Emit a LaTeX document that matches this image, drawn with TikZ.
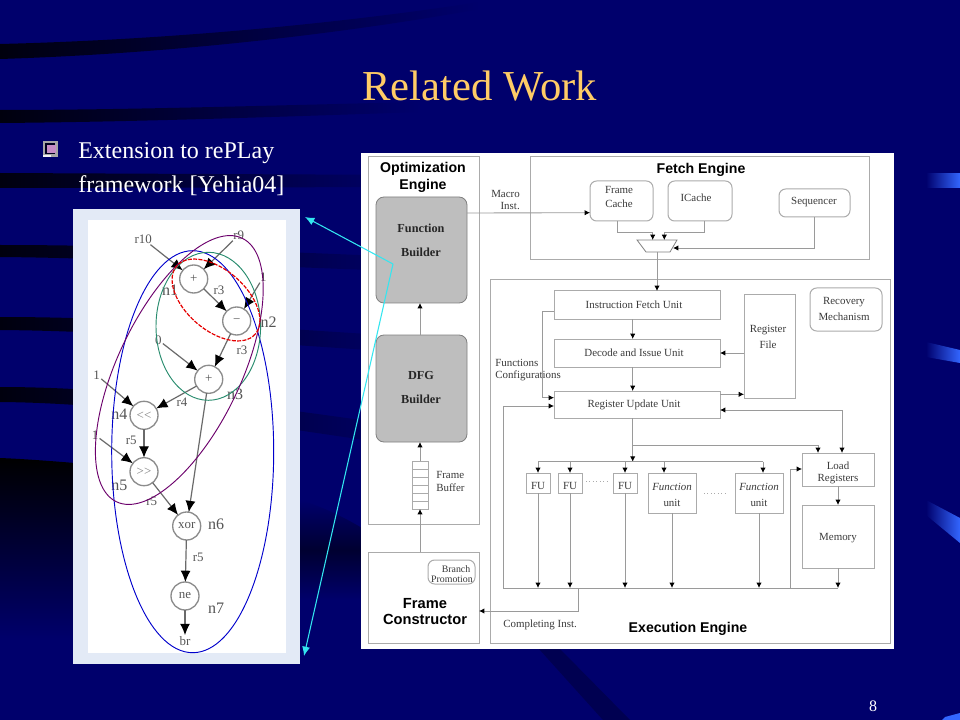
\documentclass[tikz,border=0pt]{standalone}
\usepackage{fontspec}
\setmainfont{Liberation Serif}
\setsansfont{Liberation Sans}
\usetikzlibrary{arrows.meta,fit,calc}
\definecolor{bgc}{HTML}{00006C}
\definecolor{bandc}{HTML}{00000E}
\definecolor{acc}{HTML}{3366FF}
\definecolor{titlec}{HTML}{FFCC66}
\definecolor{linec}{HTML}{ABABAB}
\definecolor{conc}{HTML}{9A9A9A}
\definecolor{txtc}{HTML}{3A3A3A}
\definecolor{fillg}{HTML}{BEBEBE}
\definecolor{panelc}{HTML}{E3EAF6}
\definecolor{cyanc}{HTML}{33E6F0}
\definecolor{gedge}{HTML}{6A6A6A}
\definecolor{gtxt}{HTML}{555555}
\tikzset{
  boxa/.style={draw=linec,line width=.75pt,inner sep=0pt,outer sep=0pt},
  rboxa/.style={boxa,rounded corners=5pt},
  grayb/.style={draw=gray,line width=.6pt,fill=fillg,rounded corners=6pt,inner sep=0pt,outer sep=0pt},
  txt/.style={font=\fontsize{8.2}{9.3}\selectfont,text=txtc,align=center,inner sep=0pt,yshift=-.6pt},
  txtl/.style={txt,align=left,anchor=west},
  head/.style={font=\fontsize{10.6}{12.2}\selectfont\sffamily\bfseries,text=black,align=center,inner sep=0pt},
  bsr/.style={font=\fontsize{9.2}{18}\selectfont\bfseries,text=black!85,align=center,inner sep=0pt},
  conn/.style={draw=conc,line width=.65pt},
  arr/.style={conn,-{Latex[black,length=4pt,width=4pt]}},
  arrb/.style={conn,{Latex[black,length=4pt,width=4pt]}-{Latex[black,length=4pt,width=4pt]}},
  gnode/.style={circle,draw=gray!90,line width=1pt,fill=white,minimum size=21pt,inner sep=0pt,outer sep=0pt,font=\fontsize{9.7}{11}\selectfont,text=gtxt},
  glab/.style={font=\fontsize{9.7}{11}\selectfont,text=gtxt,inner sep=.8pt},
  nlab/.style={font=\fontsize{12}{13}\selectfont,text=gtxt,inner sep=0pt},
  gedgeb/.style={draw=gedge,line width=.9pt,-{Latex[black,length=8.5pt,width=7.5pt]}},
  cyanl/.style={draw=cyanc,line width=.8pt,-{Latex[cyanc,length=7pt,width=6pt]}},
  ell/.style={line width=.7pt},
}
\begin{document}
\begin{tikzpicture}[x=.75pt,y=-.75pt]
\useasboundingbox (0,0) rectangle (960,720);
\fill[bgc] (0,0) rectangle (960,720);
% background swooshes
\shade[left color=bandc,right color=bgc] (0,44) .. controls (160,40) and (330,25) .. (480,2) -- (480,9) .. controls (330,36) and (160,54) .. (0,59) -- cycle;
\shade[left color=bandc,right color=bgc] (0,110) .. controls (120,110) and (250,106) .. (420,102) -- (420,112) .. controls (250,118) and (120,122) .. (0,123) -- cycle;
\shade[left color=bandc,right color=bgc] (0,173) -- (420,175) -- (420,187) -- (0,188) -- cycle;
\shade[left color=bandc,right color=bgc] (0,245) .. controls (120,245) and (240,250) .. (430,258) -- (430,272) .. controls (240,266) and (120,258) .. (0,257) -- cycle;
\shade[left color=bandc,right color=bgc] (0,317) .. controls (120,317) and (240,326) .. (430,338) -- (430,354) .. controls (240,342) and (120,331) .. (0,330) -- cycle;
\shade[left color=bandc,right color=bgc] (0,387) .. controls (120,387) and (260,405) .. (430,430) -- (430,450) .. controls (260,424) and (120,403) .. (0,402) -- cycle;
\shade[top color=black,bottom color=bgc] (0,458) .. controls (25,459) and (50,461) .. (75,463) -- (75,640) -- (0,640) -- cycle;
\shade[top color=bgc,bottom color=bgc,middle color=black!55!bgc] (300,500) .. controls (320,506) and (340,515) .. (362,528) -- (362,600) -- (300,600) -- cycle;
\fill[black!25!bgc] (539,649) -- (560,649) -- (630,720) -- (603,720) -- cycle;
% right accents
\shade[left color=bgc,right color=acc] (926,174) -- (960,174) -- (960,188) -- (926,188) -- cycle;
\shade[left color=bgc,right color=acc] (926,342) -- (960,350) -- (960,363) -- (926,357) -- cycle;
\shade[left color=bgc,right color=acc] (926,500) -- (960,518) -- (960,543) -- (926,515) -- cycle;
\fill[acc] (945,717) -- (960,713) -- (960,720) -- (942,720) -- cycle;
% title and bullet
\node[anchor=base west,inner sep=0pt,text=titlec,font=\fontsize{32}{34}\selectfont] (title) at (362,101) {Related Work};
\fill[gray!70!white] (43,141) rectangle (58,157);
\fill[black!70!bgc] (45,143) rectangle (55,154);
\fill[white!55!violet] (47,145) rectangle (56,153);
\fill[white!90!gray] (43,155) rectangle (51,157);
\node[anchor=base west,inner sep=0pt,text=white,font=\fontsize{18}{20}\selectfont] (b1) at (78,159) {Extension to rePLay};
\node[anchor=base west,inner sep=0pt,text=white,font=\fontsize{18}{20}\selectfont] (b2) at (78,193) {framework [Yehia04]};
\node[anchor=base,inner sep=0pt,text=white,font=\fontsize{12}{13}\selectfont] (pg) at (873,711) {8};
% left panel
\fill[panelc] (73,209) rectangle (300,664);
\fill[white] (88,220) rectangle (286,653);
\node[gnode] (n1) at (193.7,279) {+};
\node[gnode] (n2) at (236.7,321) {−};
\node[gnode] (n3) at (208.7,379.3) {+};
\node[gnode,text=gray] (n4) at (144,415.3) {{<}{<}};
\node[gnode,text=gray] (n5) at (144,471.7) {{>}{>}};
\node[gnode] (n6) at (186.7,526) {xor};
\node[gnode] (n7) at (185,596) {ne};
\node[glab] (lbr) at (185,641) {br};
\node[glab] (lr10) at (143.3,239) {r10};
\node[glab] (lr9) at (238.7,235) {r9};
\node[glab] (lone) at (263.3,277) {1};
\node[glab] (lzero) at (158.3,340) {0};
\node[glab] (lonea) at (96.7,375) {1};
\node[glab] (loneb) at (95,435) {1};
\node[glab] (e1) at (219,290.3) {r3};
\node[glab] (e2) at (242,350) {r3};
\node[glab] (e3) at (182,402) {r4};
\node[glab] (e4) at (131.3,440) {r5};
\node[glab] (e5) at (151.7,501.7) {r5};
\node[glab] (e6) at (198.3,557.3) {r5};
\node[nlab] (t1) at (170,290.3) {n1};
\node[nlab] (t2) at (268.7,322.3) {n2};
\node[nlab] (t3) at (235,394.3) {n3};
\node[nlab] (t4) at (119.3,414) {n4};
\node[nlab] (t5) at (119.3,485) {n5};
\node[nlab] (t6) at (216,524) {n6};
\node[nlab] (t7) at (216,608.3) {n7};
\draw[gedgeb] (lr10) -- (n1);
\draw[gedgeb] (lr9) -- (n1);
\draw[gedgeb] (lone) -- (n2);
\draw[gedgeb] (n1) -- (n2);
\draw[gedgeb] (n2) -- (n3);
\draw[gedgeb] (lzero) -- (n3);
\draw[gedgeb] (n3) -- (n4);
\draw[gedgeb] (lonea) -- (n4);
\draw[gedgeb] (n4) -- (n5);
\draw[gedgeb] (loneb) -- (n5);
\draw[gedgeb] (n5) -- (n6);
\draw[gedgeb] (n3) -- (n6);
\draw[gedgeb] (n6) -- (n7);
\draw[gedgeb] (n7) -- (lbr);
% ellipses
\draw[ell,draw=blue!80!black] (192.7,451.7) ellipse [x radius=81,y radius=201];
\draw[ell,draw={rgb,255:red,40;green,140;blue,110}] (208.3,326.3) ellipse [x radius=52.3,y radius=74];
\draw[ell,draw=violet!85!black,shift={(179.3,370)},rotate=64.5] (0,0) ellipse [x radius=146,y radius=61.6];
\draw[ell,draw=red!90!black,dash pattern=on 3pt off 1pt,line width=.9pt,shift={(216,300)},rotate=-41] (0,0) ellipse [x radius=52,y radius=30];
% right panel
\fill[white] (361,153) rectangle (894,649);
\node[boxa,fit={(368,157) (479,524)}] (opt) {};
\node[boxa,fit={(530,157) (869,260)}] (fetch) {};
\node[boxa,fit={(490,280) (890,643)}] (exec) {};
\node[boxa,fit={(368,552) (479,643)}] (fc) {};
\node[grayb,fit={(376,197) (467,303)}] (fb) {};
\node[grayb,fit={(376,335) (467,442)}] (dfg) {};
\node[rboxa,fit={(590,181) (653,221)}] (cache) {};
\node[rboxa,fit={(668,181) (732,221)}] (icache) {};
\node[rboxa,fit={(779,189) (850,217)}] (seq) {};
\node[boxa,fit={(554,291) (720,319)}] (ifu) {};
\node[boxa,fit={(554,339) (720,367)}] (diu) {};
\node[boxa,fit={(554,391) (720,418)}] (ruu) {};
\node[boxa,fit={(744,295) (795,398)}] (rf) {};
\node[rboxa,fit={(810,288) (882,331)}] (rec) {};
\node[boxa,fit={(412,461) (428,509)}] (buf) {};
\node[rboxa,fit={(428,560) (475,584)}] (bp) {};
\node[boxa,fit={(526,473) (550,493)}] (fu1) {};
\node[boxa,fit={(558,473) (582,493)}] (fu2) {};
\node[boxa,fit={(613,473) (637,493)}] (fu3) {};
\node[boxa,fit={(648,473) (696,513)}] (fu4) {};
\node[boxa,fit={(735,473) (783,513)}] (fu5) {};
\node[boxa,fit={(802,453) (874,486)}] (load) {};
\node[boxa,fit={(802,505) (874,568)}] (mem) {};
\foreach \yy in {469,477,485,493,501} \draw[linec,line width=.6pt] (412,\yy) -- (428,\yy);
\coordinate (mxa) at (637,240); \coordinate (mxb) at (677,240); \coordinate (mxc) at (670,252); \coordinate (mxd) at (646,252);
\draw[draw=gray,line width=.6pt] (mxa) -- (mxb) -- (mxc) -- (mxd) -- cycle;
% texts
\node[head] (topt) at (423,177.5) {Optimization\\Engine};
\node[head] (tfetch) at (701,169.5) {Fetch Engine};
\node[head] (texec) at (688,628.5) {Execution Engine};
\node[head,font=\fontsize{11}{12.2}\selectfont\sffamily\bfseries] (tfc) at (425,611.5) {Frame\\Constructor};
\node[bsr] (tfb) at (421,240) {Function\\Builder};
\node[bsr] (tdfg) at (421,387.5) {DFG\\Builder};
\node[txt,font=\fontsize{8.2}{10.5}\selectfont] (tcache) at (619,196) {Frame\\Cache};
\node[txt] (ticache) at (696,197) {ICache};
\node[txt] (tseq) at (814,201) {Sequencer};
\node[txt] (tifu) at (634,304) {Instruction Fetch Unit};
\node[txt] (tdiu) at (634,351.5) {Decode and Issue Unit};
\node[txt] (truu) at (634,404) {Register Update Unit};
\node[txt,font=\fontsize{8.2}{12}\selectfont] (trf) at (768,336) {Register\\File};
\node[txt,font=\fontsize{8.2}{12}\selectfont] (trec) at (844,308) {Recovery\\Mechanism};
\node[txtl] (tmac) at (491,199) {Macro\\\hspace*{7pt}Inst.};
\node[txtl] (tfun) at (495,369) {Functions\\Configurations};
\node[txtl,font=\fontsize{8.2}{10}\selectfont] (tbuf) at (436,481) {Frame\\Buffer};
\node[txt,font=\fontsize{7.4}{7.6}\selectfont] (tbp) at (452,573.5) {\hspace*{6pt}Branch\\Promotion};
\node[txt] (tfu1) at (538,485) {FU};
\node[txt] (tfu2) at (570,485) {FU};
\node[txt] (tfu3) at (625,485) {FU};
\node[txt,font=\fontsize{8.2}{12}\selectfont] (tfu4) at (672,494) {\textit{Function}\\unit};
\node[txt,font=\fontsize{8.2}{12}\selectfont] (tfu5) at (759,494) {\textit{Function}\\unit};
\node[txt] (tload) at (838,472) {Load\\Registers};
\node[txt] (tmem) at (838,537) {Memory};
\node[txtl] (tcomp) at (503,624) {Completing Inst.};
\draw[linec,line width=.6pt,dotted] (586,481) -- (610,481);
\draw[linec,line width=.6pt,dotted] (704,493) -- (728,493);
% vertical / horizontal guides
\coordinate (xf) at (617,232); \coordinate (xa) at (652.7,232); \coordinate (xb) at (664.3,232); \coordinate (xi) at (704,232);
\coordinate (xs) at (814,248); \coordinate (xm) at (657,248); \coordinate (xmain) at (632.7,300);
\coordinate (xfb) at (420,300); \coordinate (xl) at (542,311); \coordinate (xo) at (503,406);
\coordinate (bus) at (503,588); \coordinate (busr) at (838,588);
\coordinate (hb) at (538,461.7); \coordinate (hbr) at (763,461.7);
\coordinate (xc) at (578,611); \coordinate (xlo) at (790,469);
\coordinate (hm) at (633,445); \coordinate (xlo1) at (818,445); \coordinate (xlo2) at (842,410);
% optimisation side
\draw[arr] (dfg.north -| xfb) -- (fb.south -| xfb);
\draw[arr] (buf.north -| xfb) -- (dfg.south -| xfb);
\draw[arr] (fc.north -| xfb) -- (buf.south -| xfb);
\draw[arr] ($(fb.east)+(0,-37)$) -- ($(cache.west)+(0,11.7)$);
% fetch
\draw[arr] (cache.south -| xf) |- (xa) -- (xa |- mxa);
\draw[arr] (icache.south -| xi) |- (xb) -- (xb |- mxa);
\draw[arr] (seq.south -| xs) |- (673,248);
\draw[arr] (xm |- mxd) -- (ifu.north -| xm);
% main column
\draw[arr] (ifu.south -| xmain) -- (diu.north -| xmain);
\draw[arr] (diu.south -| xmain) -- (ruu.north -| xmain);
\draw[arr] (rf.west |- diu.east) -- (diu.east);
\draw[arr] ($(ruu.east)+(0,-10.2)$) -- (rf.west |- {$(ruu.east)+(0,-10.2)$});
\draw[arr] (ifu.west |- xl) -| (xl |- 0,397.7) -- (ruu.west |- 0,397.7);
\draw[arr] (bus) |- (ruu.west |- xo);
\draw[conn] (bus) -- (busr);
% to function units
\draw[arr] (ruu.south -| xmain) -- (xmain |- hb);
\draw[conn] (hb) -- (hbr);
\draw[arr] (hb) -- (fu1.north -| hb);
\draw[arr] (570,461.7) -- (fu2.north -| 570,0);
\draw[arr] (625,461.7) -- (fu3.north -| 625,0);
\draw[arr] (664,461.7) -- (fu4.north -| 664,0);
\draw[arr] (hbr) -- (fu5.north -| hbr);
\draw[arr] (hm) -| (load.north -| xlo1);
\draw[arrb] (ruu.east |- xlo2) -| (load.north -| xlo2);
% to bus
\draw[arr] (fu1.south -| hb) -- (hb |- bus);
\draw[arr] (fu2.south) -- (fu2.south |- bus);
\draw[arr] (fu3.south) -- (fu3.south |- bus);
\draw[arr] (fu4.south) -- (fu4.south |- bus);
\draw[arr] (fu5.south) -- (fu5.south |- bus);
\draw[arr] (mem.south) -- (mem.south |- bus);
\draw[arr] (load.south) -- (mem.north);
\draw[arr] (xlo |- bus) |- (load.west |- xlo);
\draw[arr] (xc |- bus) |- (fc.east |- xc);
% cyan arrows
\coordinate (cv) at (393,264);
\coordinate (cup) at (305,217);
\coordinate (cdn) at (304,656);
\draw[cyanl] (cv) -- (cup);
\draw[cyanl] (cv) -- (cdn);
\end{tikzpicture}
\end{document}
